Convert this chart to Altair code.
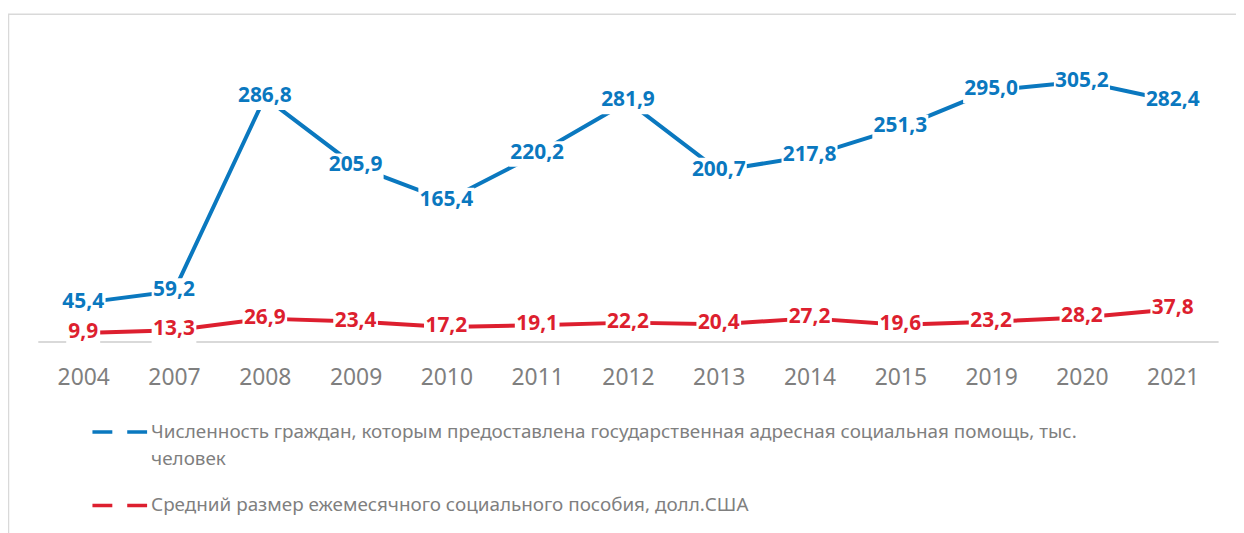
import altair as alt
import pandas as pd

years = ["2004", "2007", "2008", "2009", "2010", "2011", "2012", "2013",
         "2014", "2015", "2019", "2020", "2021"]
citizens = [45.4, 59.2, 286.8, 205.9, 165.4, 220.2, 281.9, 200.7,
            217.8, 251.3, 295.0, 305.2, 282.4]
benefit = [9.9, 13.3, 26.9, 23.4, 17.2, 19.1, 22.2, 20.4,
           27.2, 19.6, 23.2, 28.2, 37.8]

series_names = [
    "Численность граждан, которым предоставлена государственная адресная социальная помощь, тыс. человек",
    "Средний размер ежемесячного социального пособия, долл.США",
]
legend_lines_1 = ["Численность граждан, которым предоставлена государственная адресная социальная помощь, тыс.",
                  "человек"]
legend_lines_2 = ["Средний размер ежемесячного социального пособия, долл.США"]
colors = ["#0a78bf", "#dd1f2f"]

rows = []
for i, y in enumerate(years):
    for s, v in ((series_names[0], citizens[i]), (series_names[1], benefit[i])):
        lab = f"{v:.1f}".replace(".", ",")
        rows.append({"year": y, "value": v, "series": s, "label": lab, "n": str(len(lab))})
df = pd.DataFrame(rows)

W, H = 1188, 300
FONT = "Noto Sans"

# label background boxes (white), one aspect per label length
box_paths = [
    "M-0.57,-0.43H0.57V0.43H-0.57Z",
    "M-0.75,-0.43H0.75V0.43H-0.75Z",
    "M-0.94,-0.43H0.94V0.43H-0.94Z",
]

x_enc = alt.X("year:N", sort=years, title=None,
              scale=alt.Scale(paddingInner=0, paddingOuter=0),
              axis=alt.Axis(labelAngle=0, ticks=False, grid=False,
                            domainColor="#d9d9d9", domainWidth=2,
                            labelFont=FONT, labelFontSize=23, labelColor="#7f7f7f",
                            labelPadding=25))
y_enc = alt.Y("value:Q", scale=alt.Scale(domain=[0, 350]), axis=None)
color_enc = alt.Color("series:N", scale=alt.Scale(domain=series_names, range=colors), legend=None)

base = alt.Chart(df)

lines = base.mark_line(strokeWidth=4).encode(x=x_enc, y=y_enc, color=color_enc)

boxes = base.mark_point(filled=True, fill="white", opacity=1, strokeWidth=0, size=3600).encode(
    x=x_enc, y=y_enc,
    shape=alt.Shape("n:N", scale=alt.Scale(domain=["3", "4", "5"], range=box_paths), legend=None))

labels = base.mark_text(font=FONT, fontSize=21, fontWeight="bold", dy=-1).encode(
    x=x_enc, y=y_enc, text="label:N", color=color_enc)

one = alt.Data(values=[{"k": 1}])

frame = alt.Chart(one).mark_rect(fill="white", fillOpacity=0, stroke="#d9d9d9", strokeWidth=1.5).encode(
    x=alt.value(-29.5), x2=alt.value(1230), y=alt.value(-29.5), y2=alt.value(520))

dash1 = alt.Chart(one).mark_rule(color=colors[0], strokeWidth=3.5, strokeDash=[20, 15]).encode(
    x=alt.value(55), x2=alt.value(110), y=alt.value(391))
dash2 = alt.Chart(one).mark_rule(color=colors[1], strokeWidth=3.5, strokeDash=[20, 15]).encode(
    x=alt.value(55), x2=alt.value(110), y=alt.value(465))

leg1 = alt.Chart(one).mark_text(font=FONT, fontSize=19, color="#7f7f7f", align="left",
                                baseline="middle", lineHeight=27).encode(
    x=alt.value(114), y=alt.value(391), text=alt.value(legend_lines_1))
leg2 = alt.Chart(one).mark_text(font=FONT, fontSize=19, color="#7f7f7f", align="left",
                                baseline="middle").encode(
    x=alt.value(114), y=alt.value(465), text=alt.value(legend_lines_2))

chart = alt.layer(frame, lines, boxes, labels, dash1, dash2, leg1, leg2).properties(
    width=W, height=H,
    autosize=alt.AutoSizeParams(type="none"),
    padding={"left": 30, "top": 34, "right": 18, "bottom": 191},
    background="white",
).configure_view(stroke=None)

chart.save("out.html", embed_options={"renderer": "svg", "actions": False})
